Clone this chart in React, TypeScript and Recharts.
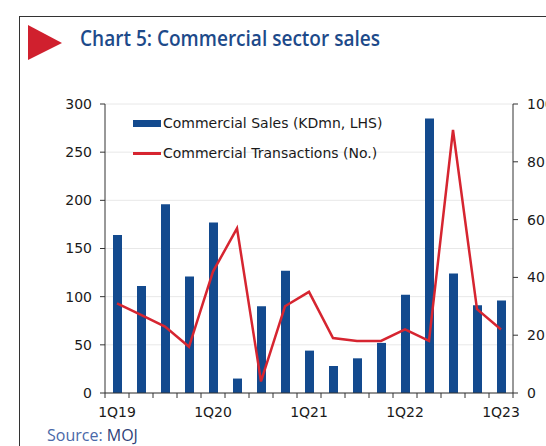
import { Bar, CartesianGrid, ComposedChart, Line, XAxis, YAxis } from "recharts"

// Quarterly commercial sector sales and transactions
const quarters = [
  "1Q19", "2Q19", "3Q19", "4Q19",
  "1Q20", "2Q20", "3Q20", "4Q20",
  "1Q21", "2Q21", "3Q21", "4Q21",
  "1Q22", "2Q22", "3Q22", "4Q22",
  "1Q23",
]
const salesKDmn = [164, 111, 196, 121, 177, 15, 90, 127, 44, 28, 36, 52, 102, 285, 124, 91, 96]
const transactions = [31, 27, 23, 16, 42, 57, 4, 30, 35, 19, 18, 18, 22, 18, 91, 29, 22]
const leftTicks = [0, 50, 100, 150, 200, 250, 300]
const rightTicks = [0, 20, 40, 60, 80, 100]
const shownLabels = ["1Q19", "1Q20", "1Q21", "1Q22", "1Q23"]

const data = quarters.map((q, i) => ({ q, sales: salesKDmn[i], trans: transactions[i] }))

const BLUE = "#134a8e"
const RED = "#d62530"
const FONT = "'DejaVu Sans', sans-serif"

function QuarterTick(props: any) {
  const { x, y, payload, index } = props
  const half = 12
  const last = index === quarters.length - 1
  return (
    <g>
      <line x1={x - half} x2={x - half} y1={y} y2={y + 5} stroke="#333" />
      {last && <line x1={x + half} x2={x + half} y1={y} y2={y + 5} stroke="#333" />}
      {shownLabels.includes(payload.value) && (
        <text x={x} y={y + 24} textAnchor="middle" fontSize={14} fontFamily={FONT} fill="#1a1a1a">
          {payload.value}
        </text>
      )}
    </g>
  )
}

function ChartLegend() {
  const row = { display: "flex", alignItems: "center", height: 30, whiteSpace: "nowrap" as const }
  return (
    <div style={{ position: "absolute", left: 133, top: 108, fontFamily: FONT, fontSize: 14, color: "#1a1a1a" }}>
      <div style={row}>
        <span style={{ display: "inline-block", width: 28, height: 7, background: BLUE, marginRight: 2 }} />
        Commercial Sales (KDmn, LHS)
      </div>
      <div style={row}>
        <span style={{ display: "inline-block", width: 28, height: 3, background: RED, marginRight: 2 }} />
        Commercial Transactions (No.)
      </div>
    </div>
  )
}

export default function App() {
  return (
    <div style={{ position: "absolute", left: 0, top: 0, width: 546, height: 446, overflow: "hidden", background: "#fff" }}>
      {/* frame */}
      <div style={{ position: "absolute", left: 19, top: 16, width: 560, height: 460, borderTop: "1.5px solid #333", borderLeft: "1.5px solid #333" }} />
      <svg style={{ position: "absolute", left: 0, top: 0 }} width={546} height={70}>
        <polygon points="28,25 62,43 28,60" fill="#d0202e" />
        <text x={80} y={46} fontSize={22} fontWeight={600} fontFamily="'Open Sans', sans-serif" fill="#1d4a8a"
          textLength={300} lengthAdjust="spacingAndGlyphs">
          Chart 5: Commercial sector sales
        </text>
      </svg>
      <div style={{ position: "absolute", left: 0, top: 0 }}>
        <ComposedChart width={546} height={446} data={data} margin={{ top: 104, right: 0, bottom: 23, left: 0 }}>
          <CartesianGrid yAxisId="left" vertical={false} stroke="#e8e8e8" />
          <XAxis dataKey="q" interval={0} height={30} tickLine={false} tickSize={0} tickMargin={0}
            axisLine={{ stroke: "#333" }} tick={<QuarterTick />} />
          <YAxis yAxisId="left" width={105} domain={[0, 300]} ticks={leftTicks} tickSize={5} tickMargin={8}
            axisLine={{ stroke: "#333" }} tickLine={{ stroke: "#333" }}
            tick={{ fontSize: 14, fontFamily: FONT, fill: "#1a1a1a" }} />
          <YAxis yAxisId="right" orientation="right" width={33} domain={[0, 100]} ticks={rightTicks} tickSize={5} tickMargin={9}
            axisLine={{ stroke: "#333" }} tickLine={{ stroke: "#333" }}
            tick={{ fontSize: 14, fontFamily: FONT, fill: "#1a1a1a" }} />
          <Bar yAxisId="left" dataKey="sales" fill={BLUE} barSize={9} isAnimationActive={false} />
          <Line yAxisId="right" dataKey="trans" type="linear" stroke={RED} strokeWidth={2.5} dot={false} isAnimationActive={false} />
        </ComposedChart>
      </div>
      <ChartLegend />
      <div style={{ position: "absolute", left: 47, top: 424, fontFamily: "'Open Sans', sans-serif", fontSize: 16, color: "#4a68a8" }}>
        Source: <span style={{ color: "#2f3f78" }}>MOJ</span>
      </div>
    </div>
  )
}
